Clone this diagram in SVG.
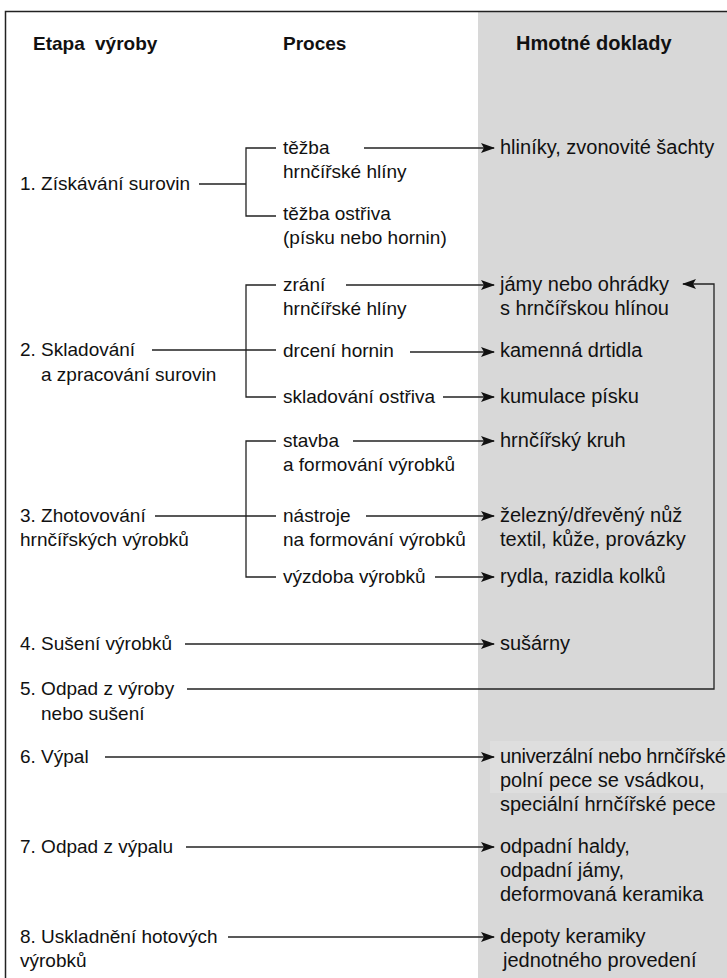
<svg xmlns="http://www.w3.org/2000/svg" width="727" height="978" viewBox="0 0 727 978">
<style>
text{font-family:"Liberation Sans",Arial,sans-serif;font-size:19px;fill:#111}
.h{font-weight:bold}
.r{font-size:20px}
.ln{fill:none;stroke:#222;stroke-width:1.3}
</style>
<defs>
<marker id="ah" viewBox="0 0 14 10" refX="13" refY="5" markerWidth="14" markerHeight="10" markerUnits="userSpaceOnUse" orient="auto">
<path d="M0,0 L14,5 L0,10 L3,5 z" fill="#111"/>
</marker>
</defs>
<rect x="0" y="0" width="727" height="978" fill="#fff"/>
<rect x="478" y="12" width="249" height="966" fill="#d8d8d8"/>
<rect x="490" y="741" width="237" height="52" fill="#dedede"/>
<path d="M5.5,978 V11.5 H727" fill="none" stroke="#222" stroke-width="1.5"/>
<g id="header">
<text class="h" x="33" y="50">Etapa<tspan x="95">výroby</tspan></text>
<text class="h" x="283" y="50">Proces</text>
<text class="h r" x="516" y="50">Hmotné doklady</text>
</g>
<g id="connectors">
<path class="ln" d="M199,184 H246 M276,148 H246 V216 H276"/>
<path class="ln" d="M364,148 H494" marker-end="url(#ah)"/>
<path class="ln" d="M152,350 H276 M276,285 H246 V397 H276"/>
<path class="ln" d="M346,285 H494" marker-end="url(#ah)"/>
<path class="ln" d="M410,352 H494" marker-end="url(#ah)"/>
<path class="ln" d="M443,397 H494" marker-end="url(#ah)"/>
<path class="ln" d="M155,516 H276 M276,441 H246 V577 H276"/>
<path class="ln" d="M353,441 H494" marker-end="url(#ah)"/>
<path class="ln" d="M366,516 H494" marker-end="url(#ah)"/>
<path class="ln" d="M435,577 H494" marker-end="url(#ah)"/>
<path class="ln" d="M185,644 H494" marker-end="url(#ah)"/>
<path class="ln" d="M187,689 H714 V284 H683" marker-end="url(#ah)"/>
<path class="ln" d="M105,757 H494" marker-end="url(#ah)"/>
<path class="ln" d="M186,847 H494" marker-end="url(#ah)"/>
<path class="ln" d="M228,937 H494" marker-end="url(#ah)"/>
</g>
<g id="stage1"><text x="20" y="190">1. Získávání surovin</text></g>
<g id="p1a"><text x="283" y="154">těžba</text><text x="283" y="178">hrnčířské hlíny</text></g>
<g id="p1b"><text x="283" y="220">těžba ostřiva</text><text x="283" y="244">(písku nebo hornin)</text></g>
<g id="d1"><text class="r" x="500" y="154">hliníky, zvonovité šachty</text></g>
<g id="stage2"><text x="20" y="356">2. Skladování</text><text x="41" y="381">a zpracování surovin</text></g>
<g id="p2a"><text x="283" y="291">zrání</text><text x="283" y="315">hrnčířské hlíny</text></g>
<g id="p2b"><text x="283" y="357">drcení hornin</text></g>
<g id="p2c"><text x="283" y="403">skladování ostřiva</text></g>
<g id="d2a"><text class="r" x="500" y="291">jámy nebo ohrádky</text><text class="r" x="500" y="315">s hrnčířskou hlínou</text></g>
<g id="d2b"><text class="r" x="500" y="357">kamenná drtidla</text></g>
<g id="d2c"><text class="r" x="500" y="403">kumulace písku</text></g>
<g id="stage3"><text x="20" y="522">3. Zhotovování</text><text x="20" y="546">hrnčířských výrobků</text></g>
<g id="p3a"><text x="283" y="447">stavba</text><text x="283" y="471">a formování výrobků</text></g>
<g id="p3b"><text x="283" y="522">nástroje</text><text x="283" y="546">na formování výrobků</text></g>
<g id="p3c"><text x="283" y="583">výzdoba výrobků</text></g>
<g id="d3a"><text class="r" x="500" y="447">hrnčířský kruh</text></g>
<g id="d3b"><text class="r" x="500" y="522">železný/dřevěný nůž</text><text class="r" x="500" y="546">textil, kůže, provázky</text></g>
<g id="d3c"><text class="r" x="500" y="583">rydla, razidla kolků</text></g>
<g id="stage4"><text x="20" y="650">4. Sušení výrobků</text></g>
<g id="d4"><text class="r" x="500" y="650">sušárny</text></g>
<g id="stage5"><text x="20" y="695">5. Odpad z výroby</text><text x="41" y="720">nebo sušení</text></g>
<g id="stage6"><text x="20" y="763">6. Výpal</text></g>
<g id="d6"><text class="r" x="500" y="763" letter-spacing="-0.35">univerzální nebo hrnčířské</text><text class="r" x="500" y="787">polní pece se vsádkou,</text><text class="r" x="500" y="811">speciální hrnčířské pece</text></g>
<g id="stage7"><text x="20" y="853">7. Odpad z výpalu</text></g>
<g id="d7"><text class="r" x="500" y="853">odpadní haldy,</text><text class="r" x="500" y="877">odpadní jámy,</text><text class="r" x="500" y="901">deformovaná keramika</text></g>
<g id="stage8"><text x="20" y="943">8. Uskladnění hotových</text><text x="20" y="967">výrobků</text></g>
<g id="d8"><text class="r" x="500" y="943">depoty keramiky</text><text class="r" x="503" y="967">jednotného provedení</text></g>
</svg>
